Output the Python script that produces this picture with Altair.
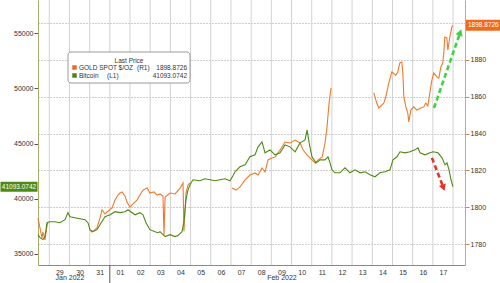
import altair as alt
import pandas as pd

FONT = "Liberation Sans"
GOLD = "#f07a2c"
BTC = "#4f8a14"

# time axis: hours after 2022-01-28 00:00
X_DOMAIN = [10.6, 518.2]

# ---- Bitcoin (left axis, USD) ----
btc_h = [10.6, 13.0, 16.5, 18.9, 21.3, 24.8, 30.8, 36.7, 42.7, 46.2,
         48.6, 54.6, 60.5, 66.4, 70.0, 72.4, 76.0, 80.7, 84.3, 90.2,
         96.2, 102.1, 108.1, 114.0, 117.6, 125.9, 131.8, 135.4, 139.0, 143.7,
         149.7, 153.3, 155.6, 161.7, 167.5, 173.5, 177.0, 181.8, 184.1, 186.5,
         188.9, 191.3, 194.8, 203.1, 209.1, 215.0, 221.0, 226.9, 232.9, 238.8,
         242.4, 244.8, 250.7, 256.7, 262.6, 268.6, 272.2, 276.9, 280.5, 286.4,
         292.4, 298.3, 304.3, 310.2, 316.2, 322.1, 328.1, 330.5, 332.9, 336.3,
         341.1, 345.8, 351.8, 355.3, 357.7, 360.1, 363.6, 369.6, 375.5, 381.5,
         387.4, 393.4, 399.3, 405.3, 411.2, 417.1, 423.1, 429.0, 432.6, 437.4,
         440.9, 446.9, 452.8, 458.8, 462.3, 464.7, 470.7, 476.6, 480.2, 486.1,
         490.9, 494.4, 496.8, 499.2, 501.6, 503.8]
btc_v = [36750, 36480, 36300, 36570, 37830, 37920, 37920, 37830, 38100, 38740,
         38370, 38280, 38190, 38100, 37830, 37200, 37020, 37200, 37650, 38370,
         38550, 38830, 38740, 38830, 39010, 38550, 38740, 38550, 37830, 37200,
         37020, 36930, 37020, 36570, 36750, 36570, 36660, 37020, 37920, 39910,
         40810, 41270, 41720, 41630, 41810, 41720, 41630, 41720, 41810, 41630,
         42080, 42440, 42890, 43070, 43800, 43980, 44700, 45150, 44160, 44430,
         43980, 44160, 44880, 44700, 44250, 45060, 45330, 46240, 45060, 43800,
         43250, 43520, 43520, 43800, 43250, 42620, 42350, 42350, 42800, 42350,
         42620, 42350, 42440, 42170, 41990, 42350, 42440, 42620, 43520, 43800,
         44250, 44160, 44250, 44430, 44610, 44160, 43980, 44160, 44250, 44160,
         43710, 43070, 43250, 42620, 41720, 41093.0742]

# ---- Gold spot (right axis, $/oz), trading sessions ----
gold_a_h = [10.6, 13.0, 15.3, 16.5, 18.9, 21.3, 22.5]
gold_a_v = [1794.1, 1788.7, 1783.3, 1786.5, 1782.2, 1789.8, 1792.0]
gold_b_h = [72.4, 74.8, 80.7, 84.3, 86.7, 90.2, 92.6, 98.7, 102.1, 105.7,
            108.1, 110.4, 114.0, 116.4, 119.9, 124.7, 128.3, 131.8, 135.4, 140.2,
            143.7, 148.5, 152.1, 155.6, 159.2, 160.4, 161.7, 167.5, 173.5, 179.4,
            183.0, 184.1, 186.5, 188.9, 191.3]
gold_b_v = [1787.6, 1786.5, 1788.7, 1794.1, 1798.5, 1796.3, 1797.4, 1799.6, 1803.9, 1806.6,
            1807.7, 1808.3, 1806.1, 1802.8, 1800.1, 1802.3, 1803.9, 1806.6, 1809.3, 1810.4,
            1807.7, 1808.3, 1806.6, 1807.2, 1806.1, 1784.9, 1805.5, 1807.7, 1807.2, 1810.4,
            1813.2, 1787.0, 1807.7, 1812.1, 1813.2]
gold_c_h = [241.2, 246.0, 250.7, 256.7, 262.6, 268.6, 272.2, 276.9, 280.5, 284.0,
            288.8, 292.4, 298.3, 304.3, 310.2, 316.2, 322.1, 325.7, 330.5, 334.1,
            340.0, 343.6, 348.4, 351.8, 354.2, 356.6, 357.8, 359.0]
gold_c_v = [1810.4, 1809.3, 1811.0, 1814.8, 1817.5, 1818.6, 1817.5, 1821.3, 1819.1, 1825.7,
            1826.7, 1827.3, 1831.1, 1835.4, 1834.9, 1836.5, 1834.9, 1831.1, 1828.4, 1826.7,
            1824.0, 1825.7, 1827.3, 1834.9, 1843.6, 1856.6, 1861.0, 1864.8]
gold_d_h = [409.8, 413.3, 415.7, 418.1, 421.7, 424.0, 427.6, 431.2, 435.9, 438.3,
            440.7, 443.1, 444.3, 445.5, 447.9, 450.2, 451.4, 453.8, 457.4, 460.9,
            465.7, 469.2, 471.6, 474.0, 476.4, 478.8, 481.1, 484.7, 487.1, 489.5,
            491.8, 493.0, 494.2, 496.6, 497.8, 500.2, 502.6, 503.8]
gold_d_v = [1862.1, 1856.6, 1853.9, 1855.0, 1856.6, 1859.9, 1867.5, 1873.5, 1871.8, 1873.5,
            1878.4, 1878.9, 1872.9, 1859.9, 1854.5, 1851.2, 1846.3, 1852.8, 1854.5, 1852.8,
            1853.9, 1854.5, 1856.6, 1855.0, 1862.1, 1869.1, 1872.9, 1870.8, 1870.2, 1876.2,
            1878.4, 1883.8, 1892.5, 1892.0, 1885.4, 1892.5, 1897.9, 1898.8726]

GOLD_LAST = "1898.8726"
BTC_LAST = "41093.0742"

# axis ticks
day_bounds = [24 * k for k in range(1, 22)]
day_mids = [12 + 24 * k for k in range(1, 21)]
month_h = [48.6, 300.6]
month_lbl = ["Jan 2022", "Feb 2022"]
btc_ticks = [35000, 40000, 45000, 50000, 55000]
gold_ticks = [1780, 1800, 1820, 1840, 1860, 1880, 1900]

# annotation arrows (data coordinates)
up_arrow_h = [481.3, 512.5]
up_arrow_v = [1853.9, 1895.0]
down_arrow_h = [478.9, 492.6]
down_arrow_v = [43700, 41000]

btc_df = pd.DataFrame({"h": btc_h, "v": btc_v})
gold_df = pd.concat([
    pd.DataFrame({"h": gold_a_h, "v": gold_a_v, "seg": "a"}),
    pd.DataFrame({"h": gold_b_h, "v": gold_b_v, "seg": "b"}),
    pd.DataFrame({"h": gold_c_h, "v": gold_c_v, "seg": "c"}),
    pd.DataFrame({"h": gold_d_h, "v": gold_d_v, "seg": "d"}),
], ignore_index=True)

W, H = 427, 265

xs = alt.Scale(domain=X_DOMAIN, nice=False, zero=False)
ys_btc = alt.Scale(domain=[34000, 58000], nice=False, zero=False)
ys_gold = alt.Scale(domain=[1768.6, 1912.6], nice=False, zero=False)

x_axis = alt.Axis(values=day_mids, title=None, ticks=False, grid=False,
                  labelExpr="timeFormat(time(datetime(2022, 0, 28)) + datum.value * 3600000, '%d')",
                  labelFont=FONT, labelFontSize=7, labelColor="#333", labelPadding=3,
                  domainColor="#8a8a8a", labelFlush=False)
left_axis = alt.Axis(orient="left", values=btc_ticks, title=None, grid=False, format="d",
                     labelFont=FONT, labelFontSize=7, labelColor="#333", labelPadding=1,
                     tickSize=4, tickColor="#555", domainColor="#a8ad6a")
right_axis = alt.Axis(orient="right", values=gold_ticks, title=None, grid=True, format="d",
                      gridDash=[1, 2], gridColor="#9a9a9a", gridWidth=1,
                      labelExpr="datum.value >= 1900 ? '' : datum.label",
                      labelFont=FONT, labelFontSize=7, labelColor="#333", labelPadding=1,
                      tickSize=4, tickColor="#c98a50", domainColor="#e0a060")


def X():
    return alt.X("h:Q", scale=xs, axis=x_axis)


def YG():
    return alt.Y("v:Q", scale=ys_gold, axis=right_axis)


def YB():
    return alt.Y("v:Q", scale=ys_btc, axis=left_axis)


# vertical day grid
vgrid = alt.Chart(pd.DataFrame({"h": day_bounds})).mark_rule(
    color="#d2d2d2", strokeWidth=1).encode(x=X())

month_sep = alt.Chart(pd.DataFrame({"h": [96]})).mark_rule(color="#555", strokeWidth=1).encode(
    x=X(), y=alt.value(H), y2=alt.value(H + 18))

months = alt.Chart(pd.DataFrame({"h": month_h, "t": month_lbl})).mark_text(
    font=FONT, fontSize=7, color="#333", baseline="middle").encode(
    x=X(), y=alt.value(H + 13), text="t:N")

# gold group (right axis)
gold_line = alt.Chart(gold_df).mark_line(color=GOLD, strokeWidth=1.1).encode(
    x=X(), y=YG(), detail="seg:N")
up_df = pd.DataFrame({"h": up_arrow_h, "v": up_arrow_v})
up_line = alt.Chart(up_df).mark_line(color="#3ed43e", strokeWidth=2.6, strokeDash=[5, 3]).encode(
    x=X(), y=YG())
up_head = alt.Chart(up_df.tail(1)).mark_point(
    shape="triangle-up", filled=True, size=55, angle=19, color="#3ed43e", opacity=1).encode(
    x=X(), y=YG())
gold_tag_df = pd.DataFrame({"v": [gold_d_v[-1]], "t": [GOLD_LAST]})
gold_tag = alt.Chart(gold_tag_df).mark_tick(
    color="#ef6a1c", orient="horizontal", thickness=11, size=34, opacity=1).encode(
    x=alt.value(W + 18), y=YG())
gold_tag_txt = alt.Chart(gold_tag_df).mark_text(
    font=FONT, fontSize=6.5, color="white", align="left", baseline="middle").encode(
    x=alt.value(W + 3), y=YG(), text="t:N")
gold_grp = alt.layer(gold_line, up_line, up_head, gold_tag, gold_tag_txt)

# bitcoin group (left axis)
btc_line = alt.Chart(btc_df).mark_line(color=BTC, strokeWidth=1.1).encode(x=X(), y=YB())
dn_df = pd.DataFrame({"h": down_arrow_h, "v": down_arrow_v})
dn_line = alt.Chart(dn_df).mark_line(color="#e2352b", strokeWidth=2.6, strokeDash=[5, 3]).encode(
    x=X(), y=YB())
dn_head = alt.Chart(dn_df.tail(1)).mark_point(
    shape="triangle-up", filled=True, size=55, angle=160, color="#e2352b", opacity=1).encode(
    x=X(), y=YB())
btc_tag_df = pd.DataFrame({"v": [btc_v[-1]], "t": [BTC_LAST]})
btc_tag = alt.Chart(btc_tag_df).mark_tick(
    color="#4e8a12", orient="horizontal", thickness=10, size=37, opacity=1).encode(
    x=alt.value(-19), y=YB())
btc_tag_txt = alt.Chart(btc_tag_df).mark_text(
    font=FONT, fontSize=6.5, color="white", align="center", baseline="middle").encode(
    x=alt.value(-19), y=YB(), text="t:N")
btc_grp = alt.layer(btc_line, dn_line, dn_head, btc_tag, btc_tag_txt)

# legend box (pixel positions inside plot)
lx0, ly0 = 30, 52
one = pd.DataFrame({"a": [0]})
legend_box = alt.Chart(one).mark_rect(
    fill="white", stroke="#9a9a9a", strokeWidth=1, cornerRadius=3).encode(
    x=alt.value(lx0), x2=alt.value(lx0 + 122), y=alt.value(ly0), y2=alt.value(ly0 + 31))


def ltxt(txt, x, y, align="left"):
    return alt.Chart(pd.DataFrame({"t": [txt]})).mark_text(
        font=FONT, fontSize=6.5, color="#333", align=align, baseline="middle").encode(
        x=alt.value(x), y=alt.value(y), text="t:N")


def lsq(col, y):
    return alt.Chart(one).mark_square(size=20, opacity=1, filled=True, color=col).encode(
        x=alt.value(lx0 + 6.5), y=alt.value(y))


r1, r2 = ly0 + 15.5, ly0 + 23.5
legend = alt.layer(
    legend_box,
    ltxt("Last Price", lx0 + 61, ly0 + 8.5, "center"),
    lsq("#f26522", r1), lsq("#4f7f1f", r2),
    ltxt("GOLD SPOT $/OZ", lx0 + 11, r1), ltxt("(R1)", lx0 + 69, r1),
    ltxt(GOLD_LAST, lx0 + 119, r1, "right"),
    ltxt("Bitcoin", lx0 + 11, r2), ltxt("(L1)", lx0 + 39, r2),
    ltxt(BTC_LAST, lx0 + 119, r2, "right"),
)

chart = alt.layer(vgrid, month_sep, months, gold_grp, btc_grp, legend).resolve_scale(
    y="independent").properties(
    width=W, height=H,
    padding={"left": 38, "right": 35, "top": 0, "bottom": 18},
    autosize=alt.AutoSizeParams(type="none"),
    background="white",
).configure_view(stroke=None)

chart.save("out.html", embed_options={"renderer": "svg", "actions": False})
